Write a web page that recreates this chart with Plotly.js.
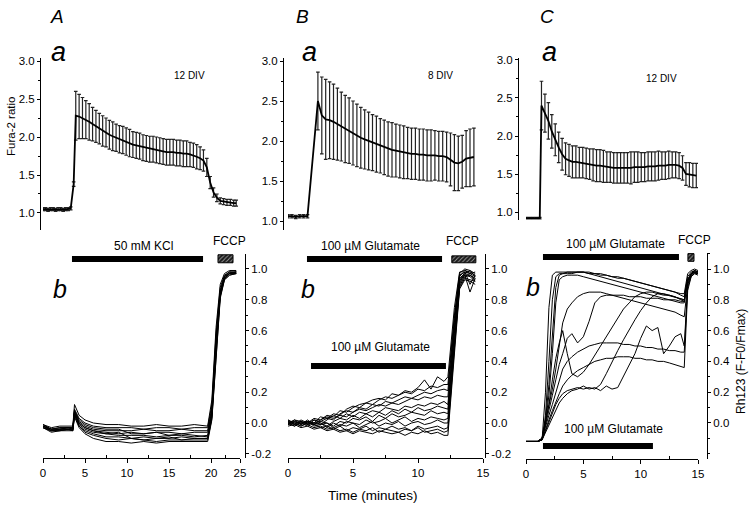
<!DOCTYPE html>
<html>
<head>
<meta charset="utf-8">
<script src="https://cdn.plot.ly/plotly-3.0.1.min.js"></script>
<style>html,body{margin:0;padding:0;background:#fff;}#plot{width:750px;height:506px;}</style>
</head>
<body>
<div id="plot"></div>
<script>
// ---------- Panel A (50 mM KCl, 12 DIV) ----------
const tA = [0,0.3,0.6,0.9,1.2,1.5,1.8,2.1,2.4,2.7,3.0,3.3,3.65,3.9,4.3,4.7,5.1,5.5,5.9,6.3,6.7,7.1,7.5,7.9,8.3,8.7,9.1,9.5,9.9,10.3,10.7,11.1,11.5,11.9,12.3,12.7,13.1,13.5,13.9,14.3,14.7,15.1,15.5,15.9,16.3,16.7,17.1,17.5,17.9,18.3,18.7,19.1,19.5,19.9,20.3,20.7,21.1,21.5,21.9,22.3,22.7,23.0];
const furaA = [1.05,1.05,1.04,1.05,1.05,1.04,1.05,1.05,1.04,1.05,1.05,1.06,1.38,2.28,2.27,2.25,2.23,2.20,2.17,2.14,2.11,2.08,2.06,2.03,2.01,1.99,1.97,1.96,1.94,1.92,1.90,1.89,1.88,1.86,1.85,1.84,1.84,1.83,1.82,1.81,1.80,1.80,1.80,1.79,1.79,1.78,1.78,1.77,1.76,1.74,1.72,1.69,1.60,1.40,1.27,1.20,1.16,1.15,1.14,1.14,1.13,1.13];
const sdA = [0.02,0.02,0.02,0.02,0.02,0.02,0.02,0.02,0.02,0.02,0.02,0.02,0.03,0.32,0.29,0.27,0.25,0.24,0.22,0.21,0.20,0.20,0.19,0.19,0.19,0.18,0.18,0.18,0.18,0.18,0.17,0.17,0.17,0.17,0.17,0.17,0.17,0.17,0.17,0.17,0.17,0.17,0.17,0.17,0.17,0.17,0.17,0.16,0.16,0.16,0.15,0.14,0.12,0.08,0.06,0.05,0.04,0.04,0.04,0.04,0.04,0.04];

const tAb = [0,1,2,3,3.55,3.75,4.3,5,6,7.5,9,10.5,12,13.5,15,16.5,18,19.6,20.1,20.6,21.1,21.6,22.2,23.0];
const rhA1 = [-0.01,-0.03,-0.02,-0.02,-0.02,0.12,0.05,0.02,0.00,-0.01,-0.01,-0.02,-0.02,-0.01,-0.02,-0.02,-0.01,-0.02,0.15,0.62,0.90,0.97,0.99,0.99];
const rhA2 = [-0.02,-0.04,-0.03,-0.03,-0.03,0.09,0.03,0.00,-0.02,-0.03,-0.03,-0.03,-0.04,-0.03,-0.03,-0.04,-0.03,-0.03,0.12,0.58,0.88,0.96,0.98,0.98];
const rhA3 = [-0.02,-0.05,-0.04,-0.04,-0.04,0.08,0.01,-0.02,-0.04,-0.05,-0.05,-0.05,-0.04,-0.05,-0.05,-0.04,-0.05,-0.05,0.10,0.55,0.86,0.95,0.98,0.97];
const rhA4 = [-0.03,-0.05,-0.05,-0.04,-0.05,0.06,0.00,-0.03,-0.05,-0.06,-0.07,-0.06,-0.07,-0.06,-0.06,-0.07,-0.06,-0.06,0.08,0.52,0.85,0.95,0.97,0.98];
const rhA5 = [-0.02,-0.04,-0.04,-0.03,-0.04,0.07,-0.01,-0.04,-0.06,-0.07,-0.08,-0.08,-0.08,-0.09,-0.08,-0.08,-0.09,-0.08,0.06,0.50,0.84,0.94,0.97,0.98];
const rhA6 = [-0.03,-0.06,-0.05,-0.05,-0.05,0.05,-0.02,-0.05,-0.07,-0.09,-0.09,-0.10,-0.09,-0.10,-0.10,-0.09,-0.10,-0.10,0.05,0.48,0.83,0.94,0.97,0.97];
const rhA7 = [-0.02,-0.05,-0.04,-0.04,-0.04,0.06,-0.02,-0.06,-0.08,-0.10,-0.11,-0.10,-0.11,-0.12,-0.11,-0.11,-0.11,-0.11,0.03,0.46,0.82,0.93,0.96,0.97];
const rhA8 = [-0.03,-0.05,-0.05,-0.04,-0.05,0.04,-0.03,-0.07,-0.10,-0.12,-0.12,-0.13,-0.12,-0.13,-0.12,-0.12,-0.12,-0.12,0.02,0.44,0.81,0.93,0.96,0.97];
const rhA9 = [-0.01,-0.04,-0.03,-0.03,-0.03,0.08,0.02,-0.01,-0.03,-0.04,-0.04,-0.07,-0.07,-0.06,-0.08,-0.07,-0.08,-0.09,0.07,0.50,0.85,0.95,0.98,0.98];
const rhA10 = [-0.02,-0.04,-0.04,-0.03,-0.04,0.07,0.00,-0.03,-0.05,-0.07,-0.06,-0.10,-0.11,-0.10,-0.09,-0.11,-0.10,-0.10,0.04,0.47,0.84,0.94,0.97,0.98];
const kclA = [3.45, 19.05];
const fccpA = [20.83, 22.62];

// ---------- Panel B (100 uM glutamate, 8 DIV) ----------
const tB = [0,0.3,0.6,0.9,1.2,1.5,2.3,2.6,2.9,3.2,3.5,3.8,4.1,4.4,4.7,5.0,5.3,5.6,5.9,6.2,6.5,6.8,7.1,7.4,7.7,8.0,8.3,8.6,8.9,9.2,9.5,9.8,10.1,10.4,10.7,11.0,11.3,11.6,11.9,12.2,12.5,12.8,13.1,13.4,13.7,14.0,14.3];
const furaB = [1.06,1.06,1.05,1.06,1.06,1.06,2.50,2.32,2.27,2.26,2.24,2.21,2.18,2.15,2.13,2.10,2.07,2.04,2.02,2.00,1.98,1.96,1.94,1.92,1.90,1.89,1.88,1.87,1.86,1.85,1.84,1.84,1.83,1.83,1.82,1.82,1.82,1.81,1.81,1.80,1.77,1.73,1.72,1.74,1.78,1.79,1.80];
const sdB = [0.02,0.02,0.02,0.02,0.02,0.02,0.36,0.48,0.50,0.48,0.47,0.45,0.43,0.42,0.41,0.40,0.39,0.38,0.37,0.36,0.35,0.35,0.34,0.34,0.34,0.34,0.33,0.33,0.33,0.32,0.32,0.32,0.32,0.32,0.32,0.32,0.31,0.31,0.31,0.31,0.33,0.35,0.34,0.33,0.35,0.36,0.36];

const tBb = [0,0.5,1,1.5,2,2.5,3,3.5,4,4.5,5,5.5,6,6.5,7,7.5,8,8.5,9,9.5,10,10.5,11,11.5,12,12.3,12.8,13.2,13.6,14.0,14.4];
const rhB1 = [0.01,-0.01,0.02,0.00,0.03,0.02,0.05,0.04,0.08,0.07,0.10,0.12,0.13,0.15,0.16,0.15,0.19,0.18,0.21,0.20,0.23,0.28,0.22,0.30,0.27,0.30,0.75,0.98,0.99,0.97,0.98];
const rhB2 = [0.00,0.02,-0.01,0.01,0.00,0.04,0.03,0.06,0.05,0.09,0.11,0.10,0.13,0.12,0.15,0.17,0.16,0.18,0.20,0.19,0.22,0.21,0.24,0.23,0.25,0.25,0.70,0.97,1.00,0.99,0.97];
const rhB3 = [-0.01,0.01,0.00,-0.02,0.02,0.01,0.03,0.02,0.06,0.08,0.07,0.10,0.09,0.12,0.11,0.14,0.13,0.15,0.17,0.16,0.18,0.20,0.19,0.21,0.22,0.21,0.68,0.96,0.98,0.90,0.96];
const rhB4 = [0.02,0.00,0.01,0.00,-0.01,0.02,0.04,0.03,0.05,0.04,0.07,0.09,0.08,0.10,0.12,0.11,0.13,0.12,0.14,0.16,0.15,0.17,0.16,0.18,0.17,0.17,0.65,0.95,0.99,0.98,0.96];
const rhB5 = [0.00,-0.02,0.00,0.01,0.00,-0.01,0.02,0.05,0.03,0.06,0.04,0.07,0.06,0.08,0.07,0.10,0.09,0.08,0.11,0.10,0.12,0.11,0.13,0.12,0.14,0.12,0.62,0.94,0.97,0.99,0.95];
const rhB6 = [0.01,0.00,-0.02,0.00,0.02,0.00,-0.02,0.01,0.03,0.02,0.05,0.03,0.06,0.04,0.07,0.05,0.08,0.06,0.09,0.07,0.10,0.08,0.09,0.11,0.10,0.09,0.60,0.93,0.96,0.85,0.94];
const rhB7 = [-0.01,0.02,0.01,-0.01,0.00,0.01,0.00,-0.02,0.01,0.00,0.03,0.02,0.04,0.01,0.05,0.03,0.06,0.04,0.05,0.07,0.06,0.05,0.08,0.06,0.07,0.06,0.58,0.92,0.98,0.97,0.95];
const rhB8 = [0.00,0.01,-0.01,0.02,-0.01,0.00,-0.03,0.00,-0.02,0.01,0.00,-0.01,0.02,0.00,0.01,0.03,0.00,0.02,0.04,0.01,0.03,0.02,0.04,0.03,0.02,0.03,0.55,0.91,0.97,0.96,0.93];
const rhB9 = [0.02,-0.01,0.00,0.01,-0.02,-0.01,0.00,-0.03,-0.01,-0.02,0.00,-0.03,-0.01,0.01,-0.02,0.00,-0.01,0.01,-0.02,0.00,0.01,-0.01,0.00,0.02,0.00,0.00,0.52,0.90,0.96,0.95,0.92];
const rhB10 = [-0.01,0.00,-0.02,0.00,-0.01,-0.03,-0.02,-0.04,-0.02,-0.05,-0.03,-0.04,-0.02,-0.05,-0.03,-0.04,-0.02,-0.04,-0.03,-0.05,-0.02,-0.04,-0.03,-0.02,-0.04,-0.03,0.50,0.89,0.95,0.96,0.94];
const rhB11 = [0.00,-0.02,0.01,-0.01,-0.03,-0.02,-0.04,-0.03,-0.05,-0.04,-0.06,-0.04,-0.05,-0.03,-0.06,-0.04,-0.05,-0.06,-0.04,-0.05,-0.03,-0.06,-0.05,-0.04,-0.06,-0.05,0.48,0.88,0.94,0.93,0.92];
const rhB12 = [-0.02,-0.01,-0.03,-0.02,-0.04,-0.03,-0.05,-0.04,-0.06,-0.05,-0.07,-0.05,-0.06,-0.07,-0.05,-0.06,-0.07,-0.06,-0.08,-0.06,-0.07,-0.05,-0.07,-0.06,-0.08,-0.08,0.45,0.87,0.93,0.92,0.90];
const gluB1 = [1.46, 11.85];
const gluB2 = [1.77, 12.15];
const fccpB = [12.6, 14.45];

// ---------- Panel C (100 uM glutamate, 12 DIV) ----------
const tC = [0,0.3,0.6,0.9,1.2,1.35,1.65,1.95,2.25,2.55,2.85,3.15,3.45,3.75,4.05,4.35,4.65,4.95,5.25,5.55,5.85,6.15,6.45,6.75,7.05,7.35,7.65,7.95,8.25,8.55,8.85,9.15,9.45,9.75,10.05,10.35,10.65,10.95,11.25,11.55,11.85,12.15,12.45,12.75,13.05,13.35,13.65,13.95,14.25,14.55,14.85];
const furaC = [0.92,0.92,0.92,0.92,0.92,2.40,2.30,2.20,2.06,1.95,1.85,1.76,1.70,1.68,1.66,1.66,1.65,1.65,1.64,1.63,1.62,1.61,1.61,1.60,1.59,1.59,1.58,1.58,1.58,1.58,1.58,1.58,1.59,1.59,1.59,1.59,1.60,1.60,1.60,1.61,1.61,1.61,1.62,1.62,1.62,1.61,1.58,1.50,1.49,1.48,1.48];
const sdC = [0.01,0.01,0.01,0.01,0.01,0.32,0.25,0.24,0.22,0.21,0.20,0.21,0.21,0.21,0.21,0.21,0.20,0.20,0.20,0.20,0.21,0.21,0.21,0.21,0.20,0.20,0.20,0.20,0.20,0.20,0.20,0.21,0.20,0.20,0.19,0.19,0.19,0.19,0.19,0.19,0.18,0.18,0.18,0.17,0.17,0.17,0.16,0.15,0.16,0.16,0.16];

const tCb = [0,0.5,1.0,1.4,1.7,2.0,2.3,2.6,2.9,3.2,3.6,4.0,4.5,5.0,5.5,6.0,6.5,7.0,7.5,8.0,8.5,9.0,9.5,10.0,10.5,11.0,11.5,12.0,12.5,13.0,13.5,13.8,14.1,14.4,14.7,15.0];
const rhC1 = [-0.12,-0.12,-0.12,-0.11,0.20,0.75,0.96,0.98,0.98,0.98,0.98,0.98,0.98,0.98,0.98,0.97,0.97,0.96,0.95,0.95,0.94,0.93,0.92,0.91,0.90,0.89,0.88,0.87,0.86,0.85,0.84,0.84,0.97,0.99,1.00,0.99];
const rhC2 = [-0.12,-0.12,-0.12,-0.11,0.05,0.40,0.80,0.95,0.97,0.97,0.98,0.98,0.98,0.98,0.97,0.97,0.96,0.96,0.95,0.94,0.94,0.93,0.92,0.91,0.90,0.89,0.88,0.87,0.86,0.85,0.83,0.82,0.95,0.98,0.99,0.98];
const rhC3 = [-0.12,-0.12,-0.12,-0.10,0.02,0.25,0.60,0.88,0.96,0.97,0.97,0.97,0.98,0.98,0.97,0.96,0.95,0.94,0.93,0.92,0.91,0.90,0.89,0.88,0.87,0.86,0.85,0.84,0.83,0.82,0.81,0.80,0.93,0.97,0.99,0.98];
const rhC4 = [-0.12,-0.12,-0.12,-0.10,0.00,0.18,0.45,0.78,0.93,0.95,0.96,0.96,0.96,0.95,0.94,0.93,0.92,0.91,0.90,0.89,0.88,0.87,0.86,0.85,0.84,0.83,0.82,0.81,0.80,0.79,0.78,0.78,0.92,0.97,0.98,0.98];
const rhC5 = [-0.12,-0.12,-0.12,-0.10,0.00,0.10,0.22,0.35,0.50,0.65,0.74,0.78,0.82,0.84,0.85,0.85,0.85,0.84,0.83,0.82,0.81,0.80,0.79,0.78,0.77,0.76,0.75,0.74,0.73,0.72,0.70,0.69,0.90,0.96,0.98,0.97];
const rhC6 = [-0.12,-0.12,-0.12,-0.11,-0.02,0.08,0.18,0.28,0.38,0.45,0.55,0.58,0.52,0.56,0.66,0.78,0.82,0.83,0.83,0.83,0.83,0.82,0.82,0.82,0.81,0.81,0.81,0.80,0.80,0.80,0.79,0.79,0.93,0.97,0.99,0.98];
const rhC7 = [-0.12,-0.12,-0.12,-0.10,-0.02,0.05,0.12,0.20,0.28,0.35,0.40,0.43,0.46,0.48,0.50,0.51,0.52,0.52,0.52,0.52,0.51,0.51,0.50,0.50,0.49,0.49,0.48,0.48,0.47,0.47,0.46,0.46,0.88,0.95,0.97,0.97];
const rhC8 = [-0.12,-0.12,-0.12,-0.11,-0.04,0.02,0.08,0.14,0.19,0.24,0.28,0.31,0.34,0.36,0.38,0.40,0.41,0.42,0.42,0.43,0.43,0.43,0.42,0.42,0.41,0.41,0.40,0.40,0.39,0.38,0.37,0.36,0.86,0.95,0.97,0.96];
const rhC9 = [-0.12,-0.12,-0.12,-0.10,0.00,0.12,0.28,0.42,0.52,0.60,0.45,0.32,0.30,0.33,0.38,0.44,0.50,0.56,0.62,0.68,0.74,0.78,0.82,0.84,0.85,0.85,0.84,0.83,0.83,0.82,0.81,0.80,0.93,0.97,0.98,0.97];
const rhC10 = [-0.12,-0.12,-0.12,-0.11,-0.05,0.00,0.06,0.12,0.16,0.19,0.21,0.22,0.23,0.22,0.23,0.22,0.25,0.32,0.40,0.47,0.54,0.61,0.67,0.73,0.78,0.82,0.84,0.84,0.83,0.82,0.80,0.79,0.92,0.96,0.98,0.97];
const rhC11 = [-0.12,-0.12,-0.12,-0.11,-0.06,-0.01,0.04,0.09,0.13,0.16,0.19,0.21,0.22,0.24,0.22,0.23,0.21,0.24,0.22,0.23,0.30,0.38,0.45,0.55,0.63,0.60,0.62,0.45,0.50,0.56,0.58,0.50,0.90,0.96,0.98,0.97];
const gluC1 = [1.48, 13.34];
const gluC2 = [1.48, 11.07];
const fccpC = [14.12, 14.65];

// ---------- drawing ----------
const FONT = 'Liberation Sans, Arial, Helvetica, sans-serif';
const W = 750, H = 506;
const traces = [];

function meanTrace(x, y, sd, xa, ya) {
  traces.push({type:'scatter', mode:'lines', x:x, y:y, xaxis:xa, yaxis:ya, hoverinfo:'skip',
    line:{color:'#000', width:1.8},
    error_y:{type:'data', array:sd, visible:true, color:'#222', thickness:1.2, width:1.8}});
}
function rhTraces(x, list, xa, ya) {
  list.forEach(function(v){
    traces.push({type:'scatter', mode:'lines', x:x, y:v, xaxis:xa, yaxis:ya, hoverinfo:'skip',
      line:{color:'#000', width:1}});
  });
}
function barTrace(span, level, xa, ya) {
  traces.push({type:'scatter', mode:'lines', x:span, y:[level, level], xaxis:xa, yaxis:ya, hoverinfo:'skip',
    line:{color:'#000', width:6}});
}
function hatchBox(span, lo, hi, xa, ya) {
  traces.push({type:'scatter', mode:'lines', x:[span[0], span[1], span[1], span[0], span[0]],
    y:[lo, lo, hi, hi, lo], xaxis:xa, yaxis:ya, hoverinfo:'skip', fill:'toself',
    fillcolor:'#222', fillpattern:{shape:'/', bgcolor:'#1a1a1a', fgcolor:'#9a9a9a', size:3, solidity:0.3},
    line:{color:'#000', width:1}});
}

meanTrace(tA, furaA, sdA, 'x', 'y2');
rhTraces(tAb, [rhA1,rhA2,rhA3,rhA4,rhA5,rhA6,rhA7,rhA8,rhA9,rhA10], 'x', 'y');
barTrace(kclA, 1.065, 'x', 'y');
hatchBox(fccpA, 1.04, 1.092, 'x', 'y');

meanTrace(tB, furaB, sdB, 'x2', 'y4');
rhTraces(tBb, [rhB1,rhB2,rhB3,rhB4,rhB5,rhB6,rhB7,rhB8,rhB9,rhB10,rhB11,rhB12], 'x2', 'y3');
barTrace(gluB1, 1.065, 'x2', 'y3');
barTrace(gluB2, 0.37, 'x2', 'y3');
hatchBox(fccpB, 1.04, 1.085, 'x2', 'y3');

meanTrace(tC, furaC, sdC, 'x3', 'y6');
rhTraces(tCb, [rhC1,rhC2,rhC3,rhC4,rhC5,rhC6,rhC7,rhC8,rhC9,rhC10,rhC11], 'x3', 'y5');
barTrace(gluC1, 1.078, 'x3', 'y5');
barTrace(gluC2, -0.149, 'x3', 'y5');
hatchBox(fccpC, 1.05, 1.10, 'x3', 'y5');

const base = {showline:true, linecolor:'#000', linewidth:1, ticks:'outside', ticklen:3, tickcolor:'#000', tickwidth:1,
  showgrid:false, zeroline:false, fixedrange:true, tickfont:{family:FONT, size:11.5, color:'#000'}};
function px(x){ return x / W; }
function py(y){ return 1 - y / H; }
function xAxis(d0, d1, anchor, range, tv, tt, minorVals) {
  return Object.assign({}, base, {domain:[px(d0), px(d1)], anchor:anchor, range:range,
    tickmode:'array', tickvals:tv, ticktext:tt, ticklen:4,
    minor:{tickmode:'array', tickvals:minorVals, ticks:'inside', ticklen:3, tickcolor:'#000'}});
}
const rhVals = [-0.2,0,0.2,0.4,0.6,0.8,1.0];
const rhText = ['-0.2','0.0','0.2','0.4','0.6','0.8','1.0'];
function rightAxis(top, bottom, pos, range, tv, tt) {
  return Object.assign({}, base, {domain:[py(bottom), py(top)], anchor:'free', position:px(pos), side:'right',
    range:range, tickmode:'array', tickvals:tv, ticktext:tt, ticklen:3,
    minor:{dtick:0.1, tick0:0, ticks:'outside', ticklen:2, tickcolor:'#000'}});
}
const furaVals = [1.0,1.5,2.0,2.5,3.0];
const furaText = ['1.0','1.5','2.0','2.5','3.0'];
function leftAxis(top, bottom, pos, range) {
  return Object.assign({}, base, {domain:[py(bottom), py(top)], anchor:'free', position:px(pos), side:'left',
    range:range, tickmode:'array', tickvals:furaVals, ticktext:furaText, ticklen:3,
    minor:{dtick:0.25, tick0:0, ticks:'outside', ticklen:2, tickcolor:'#000'}});
}

function ann(text, x, y, size, extra) {
  return Object.assign({text:text, x:px(x), y:py(y), xref:'paper', yref:'paper', showarrow:false,
    xanchor:'center', yanchor:'middle', font:{family:FONT, size:size, color:'#000'}}, extra || {});
}
function ital(text, x, y, size) {
  return ann(text, x, y, size, {font:{family:FONT, size:size, color:'#000', style:'italic'}});
}

const annotations = [
  ital('A', 57, 16, 19), ital('B', 302, 16, 19), ital('C', 547, 16, 19),
  ital('a', 58, 52, 27), ital('a', 309, 52, 27), ital('a', 549, 52, 27),
  ital('b', 60, 289, 25), ital('b', 308, 289, 25), ital('b', 533, 287, 25),
  ann('12 DIV', 189, 75, 10), ann('8 DIV', 440, 75, 10), ann('12 DIV', 661, 78, 10),
  ann('50 mM KCl', 143, 246, 12), ann('FCCP', 230, 241, 12),
  ann('100 \u00b5M Glutamate', 370, 246, 12), ann('FCCP', 463, 241, 12),
  ann('100 \u00b5M Glutamate', 380, 347, 12),
  ann('100 \u00b5M Glutamate', 615, 244, 12), ann('FCCP', 694, 240, 12),
  ann('100 \u00b5M Glutamate', 613, 429, 12),
  ann('Fura-2 ratio', 11, 127, 11.5, {textangle:-90}),
  ann('Time (minutes)', 373, 495, 13.5),
  ann('Rh123 (F-F0/Fmax)', 741, 362, 12, {textangle:-90})
];

const layout = {
  width:W, height:H, margin:{l:0, r:0, t:0, b:0}, showlegend:false,
  paper_bgcolor:'#fff', plot_bgcolor:'rgba(0,0,0,0)',
  font:{family:FONT, color:'#000'},
  xaxis: xAxis(43, 240, 'y', [0, 23.45], [0,5,10,15,20,23.45], ['0','5','10','15','20','25'], [2.5,7.5,12.5,17.5,21.7]),
  xaxis2: xAxis(288, 483, 'y3', [0, 15], [0,5,10,15], ['0','5','10','15'], [2.5,7.5,12.5]),
  xaxis3: xAxis(526, 698, 'y5', [0, 15], [0,5,10,15], ['0','5','10','15'], [2.5,7.5,12.5]),
  yaxis: rightAxis(254, 458, 245, [-0.227, 1.097], rhVals, rhText),
  yaxis3: rightAxis(254, 458, 485, [-0.227, 1.097], rhVals, rhText),
  yaxis5: rightAxis(253, 459, 707, [-0.234, 1.104], rhVals.slice(1), rhText.slice(1)),
  yaxis2: leftAxis(58, 230, 40, [0.776, 3.04]),
  yaxis4: leftAxis(58, 230, 283, [0.8875, 3.0375]),
  yaxis6: leftAxis(58, 220, 518, [0.895, 3.026]),
  annotations: annotations
};

Plotly.newPlot('plot', traces, layout, {staticPlot:true, displayModeBar:false});
</script>
</body>
</html>
